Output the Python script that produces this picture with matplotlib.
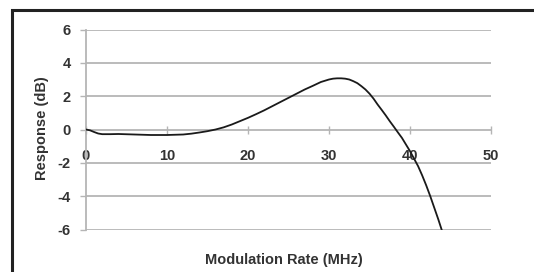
import matplotlib
matplotlib.use("Agg")
import matplotlib.pyplot as plt
from matplotlib.lines import Line2D

freq_mhz = [0, 0.5, 1, 1.5, 2, 3, 4, 6, 8, 10, 12, 13, 14, 15, 16, 17, 18, 19,
            20, 21, 22, 23, 24, 25, 26, 27, 28, 29, 30, 30.5, 31, 31.5, 32,
            32.5, 33, 33.5, 34, 34.5, 35, 35.5, 36, 36.5, 37, 37.5, 38, 38.5,
            39, 39.5, 40, 40.5, 41, 41.5, 42, 42.5, 43, 43.5, 43.9]
response_db = [0.0, -0.05, -0.15, -0.24, -0.28, -0.28, -0.27, -0.3, -0.33,
               -0.33, -0.3, -0.25, -0.18, -0.1, 0.0, 0.13, 0.3, 0.5, 0.7,
               0.92, 1.15, 1.4, 1.65, 1.9, 2.15, 2.4, 2.62, 2.85, 3.0, 3.05,
               3.07, 3.07, 3.05, 3.0, 2.9, 2.78, 2.6, 2.4, 2.15, 1.85, 1.5,
               1.18, 0.85, 0.5, 0.17, -0.17, -0.5, -0.9, -1.3, -1.75, -2.2,
               -2.75, -3.35, -4.0, -4.7, -5.4, -6.0]
x_ticks = [0, 10, 20, 30, 40, 50]
y_ticks = [-6, -4, -2, 0, 2, 4, 6]

W, H = 534, 272
fig = plt.figure(figsize=(W / 100, H / 100), dpi=100)
fig.patch.set_facecolor("white")

ax = fig.add_axes([86 / W, (H - 229.5) / H, 405 / W, 200 / H])
ax.set_xlim(0, 50)
ax.set_ylim(-6, 6)

font = dict(family=["Liberation Sans", "DejaVu Sans"], weight="bold")
tick_color = "#333333"
grid_color = "#b5b5b5"

for y in y_ticks:
    if y != 0:
        ax.axhline(y, color=grid_color, lw=1.3, zorder=1)

ax.plot(freq_mhz, response_db, color="#1a1a1a", lw=1.3, zorder=3,
        solid_joinstyle="round")

for s in ["top", "right"]:
    ax.spines[s].set_visible(False)
ax.spines["left"].set_color(grid_color)
ax.spines["left"].set_linewidth(1.3)
ax.spines["bottom"].set_position(("data", 0))
ax.spines["bottom"].set_color(grid_color)
ax.spines["bottom"].set_linewidth(1.3)

ax.set_xticks(x_ticks)
ax.set_yticks(y_ticks)
ax.set_xticklabels([str(v) for v in x_ticks], fontdict=dict(size=10.5, **font), color=tick_color)
ax.set_yticklabels([str(v) for v in y_ticks], fontdict=dict(size=10.5, **font), color=tick_color)
ax.tick_params(axis="x", direction="inout", length=6, width=1, color=grid_color, pad=11)
ax.tick_params(axis="y", direction="out", length=4, width=1, color=grid_color, pad=7)

fig.text(42 / W, 1 - 128 / H, "Response (dB)", rotation=90, ha="center", va="center",
         fontsize=10.5, color=tick_color, **font)
fig.text(284 / W, 1 - 260 / H, "Modulation Rate (MHz)", ha="center", va="center",
         fontsize=10.5, color=tick_color, **font)

# outer frame (left and top edges)
fig.add_artist(Line2D([12 / W, 12 / W, 1.0], [0.0, 1 - 10 / H, 1 - 10 / H],
                      transform=fig.transFigure, color="#222222", lw=2.2,
                      solid_joinstyle="miter"))

fig.savefig("out.png", dpi=100, facecolor="white")
